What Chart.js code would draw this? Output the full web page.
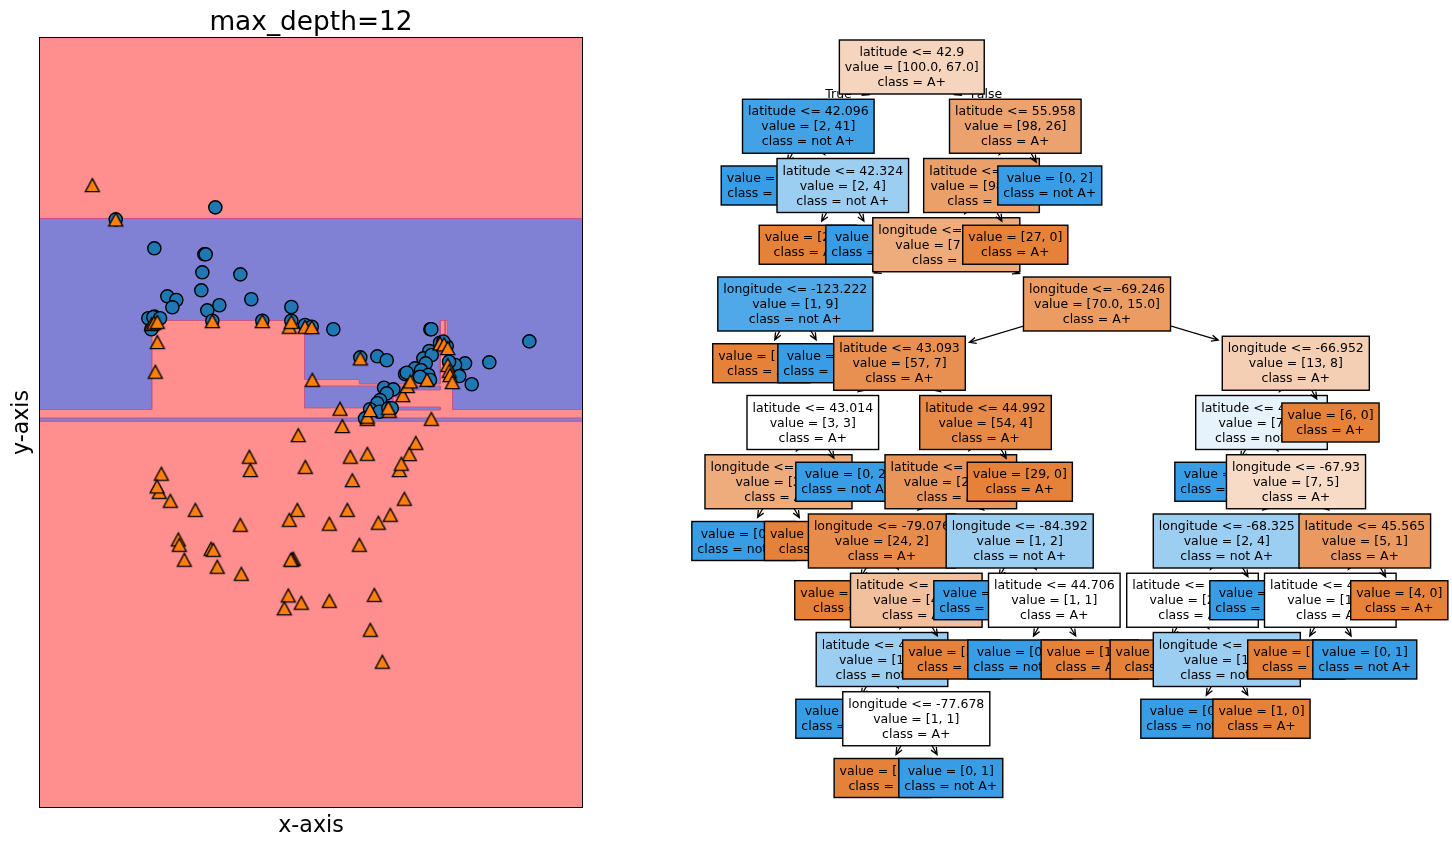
<!DOCTYPE html>
<html>
<head>
<meta charset="utf-8">
<title>max_depth=12</title>
<script src="https://cdn.jsdelivr.net/npm/chart.js@4"></script>
<style>
    html, body { margin: 0; padding: 0; background: #fff; }
    canvas { position: absolute; top: 0; display: block; }
    #regionChart { left: 0; }
    #treeChart { left: 620px; }
</style>
</head>
<body>
<canvas id="regionChart" width="620" height="846"></canvas>
<canvas id="treeChart" width="832" height="846"></canvas>
<script>
// scatter points: class "not A+" (circles) and "A+" (triangles), longitude / latitude
const circleLon = [-129.95,-111.32,-122.73,-113.38,-113.12,-113.75,-106.64,-113.94,-104.59,-120.30,-118.62,-119.36,-110.57,-112.82,-97.10,-123.85,-122.73,-122.92,-121.66,-123.29,-111.88,-102.53,-97.10,-94.54,-93.29,-89.25,-84.20,-81.02,-79.26,-71.10,-70.91,-52.58,-60.07,-64.61,-66.48,-67.60,-63.36,-65.68,-71.29,-72.41,-70.84,-71.96,-73.96,-72.84,-75.83,-75.52,-71.48,-71.16,-73.03,-79.76,-78.02,-79.26,-80.51,-81.02,-82.38,-83.32,-80.64,-78.96,-78.32,-69.29,-68.03,-68.67];
const circleLat = [55.90,56.72,53.92,53.51,53.51,52.28,52.14,51.05,50.44,50.64,50.39,49.89,50.03,49.68,49.91,49.14,49.25,49.21,49.14,48.39,48.97,48.97,48.97,48.68,48.56,48.39,46.47,46.54,46.27,48.39,48.39,47.56,46.13,46.06,45.95,46.17,44.63,45.19,46.90,46.40,46.63,46.06,45.72,45.60,45.33,45.42,45.26,44.92,45.14,44.39,44.28,44.01,43.55,43.33,42.92,42.30,42.75,42.99,42.99,47.47,47.24,47.54];
const triangleLon = [-134.33,-129.95,-123.22,-122.79,-122.17,-122.17,-122.54,-111.88,-102.53,-97.48,-97.10,-94.54,-93.29,-93.17,-95.80,-84.20,-87.99,-87.56,-82.89,-82.89,-82.38,-78.77,-78.96,-70.91,-76.27,-75.40,-74.84,-71.72,-73.83,-69.29,-68.54,-67.85,-67.85,-67.55,-67.42,-66.99,-104.96,-104.77,-94.48,-86.07,-82.89,-75.03,-76.90,-76.53,-85.69,-121.42,-121.80,-122.23,-119.74,-115.06,-106.64,-75.97,-78.58,-80.83,-86.63,-89.99,-95.98,-97.48,-84.38,-118.24,-118.05,-117.12,-112.12,-111.69,-110.95,-106.46,-96.73,-96.97,-97.22,-97.67,-95.23,-98.41,-89.99,-81.58,-82.33,-80.08];
const triangleLat = [58.25,55.90,48.75,48.84,48.90,47.52,45.49,48.95,48.95,48.56,48.90,48.56,48.54,44.94,41.16,46.40,42.96,41.78,42.27,42.42,42.87,42.82,43.03,42.27,43.89,44.51,44.83,44.94,40.63,47.43,47.36,47.11,45.95,45.55,45.26,44.78,39.68,38.77,38.99,39.68,39.88,39.86,38.77,39.20,38.08,38.52,37.28,37.65,36.67,36.05,35.03,36.81,35.71,35.17,36.05,35.10,36.05,35.37,33.66,34.03,33.66,32.64,33.39,33.32,32.16,31.68,32.71,32.66,32.64,30.20,29.70,29.32,29.83,30.24,27.85,25.67];

// decision regions predicted as "not A+"
const mainRegionLon = [-144.21,-42.64,-42.64,-66.95,-66.95,-67.93,-67.93,-69.25,-69.25,-84.39,-84.39,-94.64,-94.64,-123.22,-123.22,-144.21,-144.21];
const mainRegionLat = [55.96,55.96,42.9,42.9,45.19,45.19,48.99,48.99,44.65,44.65,44.95,44.95,48.99,48.99,42.9,42.9,55.96];
const lowerRegionLon = [-94.64,-69.25,-69.25,-75.7,-75.7,-78.1,-78.1,-69.25,-69.25,-79.2,-79.2,-94.64,-94.64];
const lowerRegionLat = [44.51,44.51,44.24,44.24,43.76,43.76,43.07,43.07,42.87,42.87,43.01,43.01,44.51];
const stripRegionLon = [-144.21,-42.64,-42.64,-144.21,-144.21];
const stripRegionLat = [42.324,42.324,42.096,42.096,42.324];
const spikeRegionLon = [-68.36,-68.3,-68.3,-68.36,-68.36];
const spikeRegionLat = [48.99,48.99,45.19,45.19,48.99];
const lonRange = [-144.21, -42.64];
const latRange = [15.7, 68.33];

// tree nodes, in the order plot_tree walks them
const nodeParent = [-1,0,1,1,3,3,0,6,7,8,9,9,8,12,13,14,15,15,14,13,19,20,21,21,23,24,24,26,26,23,20,30,30,32,32,19,12,36,37,37,39,40,41,41,43,43,40,39,47,48,48,47,36,7,6];
const nodeDepth = [0,1,2,2,3,3,1,2,3,4,5,5,4,5,6,7,8,8,7,6,7,8,9,9,10,11,11,12,12,10,8,9,9,10,10,7,5,6,7,7,8,9,10,10,11,11,9,8,9,10,10,9,6,3,2];
const nodeX = [911.8,808.3,773.8,842.8,807.8,877.8,1015.3,981.5,946.3,795.3,761.3,829.8,1097,899.5,812.8,778.5,743.8,813,847.8,985.5,950.8,881.9,847.3,916.3,882,847.8,916.3,882.7,950.8,951.3,1019.7,985.8,1054.3,1019.8,1089.7,1019.8,1295.8,1261.5,1226.8,1296,1226.8,1192.5,1158.7,1226.8,1192.8,1261.5,1261.8,1364.8,1330.3,1296.3,1364.8,1399.3,1330.5,1015.3,1049.8];
const nodeSplit = ['latitude <= 42.9','latitude <= 42.096','','latitude <= 42.324','','','latitude <= 55.958','latitude <= 54.1','longitude <= -94.641','longitude <= -123.222','','','longitude <= -69.246','latitude <= 43.093','latitude <= 43.014','longitude <= -81.024','','','','latitude <= 44.992','latitude <= 44.523','longitude <= -79.076','','latitude <= 43.824','latitude <= 43.471','','longitude <= -77.678','','','','longitude <= -84.392','','latitude <= 44.706','','','','longitude <= -66.952','latitude <= 44.372','','longitude <= -67.93','longitude <= -68.325','latitude <= 45.203','','longitude <= -68.861','','','','latitude <= 45.565','latitude <= 45.412','','','','','',''];
const nodeValue = ['[100.0, 67.0]','[2, 41]','[0, 37]','[2, 4]','[2, 0]','[0, 4]','[98, 26]','[98, 24]','[71, 24]','[1, 9]','[1, 0]','[0, 9]','[70.0, 15.0]','[57, 7]','[3, 3]','[3, 1]','[0, 1]','[3, 0]','[0, 2]','[54, 4]','[25, 4]','[24, 2]','[20, 0]','[4, 2]','[1, 2]','[0, 1]','[1, 1]','[1, 0]','[0, 1]','[3, 0]','[1, 2]','[0, 1]','[1, 1]','[0, 1]','[1, 0]','[29, 0]','[13, 8]','[7, 8]','[0, 3]','[7, 5]','[2, 4]','[2, 2]','[1, 0]','[1, 2]','[0, 2]','[1, 0]','[0, 2]','[5, 1]','[1, 1]','[1, 0]','[0, 1]','[4, 0]','[6, 0]','[27, 0]','[0, 2]'];
const branchLabels = ['True', 'False'];
const branchLabelX = [838.5, 986.5];
const branchLabelDepth = [0.447, 0.447];

const FONT = "'DejaVu Sans'";
const TREE_FONT = "12.5px " + FONT;
const LINE_H = 15;
Chart.defaults.font.family = FONT;
Chart.defaults.color = '#000';

const toPoints = (xs, ys) => xs.map((x, i) => ({ x: x, y: ys[i] }));

// matplotlib's '^' marker is taller than Chart.js' equilateral triangle
const makeTriangle = () => {
    const c = document.createElement('canvas');
    c.width = 24;
    c.height = 24;
    const ctx = c.getContext('2d');
    ctx.beginPath();
    ctx.moveTo(12, 12 - 6.4);
    ctx.lineTo(12 + 7, 12 + 6.6);
    ctx.lineTo(12 - 7, 12 + 6.6);
    ctx.closePath();
    ctx.fillStyle = '#ff7f0e';
    ctx.fill();
    ctx.lineWidth = 1.3;
    ctx.lineJoin = 'miter';
    ctx.strokeStyle = '#000';
    ctx.stroke();
    return c;
};

const regionDataset = (xs, ys) => ({
    data: toPoints(xs, ys),
    showLine: true,
    fill: 'shape',
    backgroundColor: '#8080d4',
    borderColor: '#c5558a',
    borderWidth: 1,
    pointRadius: 0,
    tension: 0
});

const framePlugin = {
    id: 'frame',
    afterDraw(chart) {
        const a = chart.chartArea;
        const ctx = chart.ctx;
        ctx.save();
        ctx.strokeStyle = '#000';
        ctx.lineWidth = 1;
        ctx.strokeRect(a.left, a.top, a.right - a.left, a.bottom - a.top);
        ctx.restore();
    }
};

new Chart(document.getElementById('regionChart'), {
    type: 'scatter',
    data: {
        // first dataset ends up on top
        datasets: [
            {
                data: toPoints(triangleLon, triangleLat),
                pointStyle: makeTriangle(),
                pointRadius: 8
            },
            {
                data: toPoints(circleLon, circleLat),
                pointStyle: 'circle',
                pointRadius: 6.6,
                backgroundColor: '#1f77b4',
                borderColor: '#000',
                borderWidth: 1.4
            },
            regionDataset(spikeRegionLon, spikeRegionLat),
            regionDataset(stripRegionLon, stripRegionLat),
            regionDataset(lowerRegionLon, lowerRegionLat),
            regionDataset(mainRegionLon, mainRegionLat),
            {
                data: toPoints([lonRange[0], lonRange[1], lonRange[1], lonRange[0]], [latRange[0], latRange[0], latRange[1], latRange[1]]),
                showLine: true,
                fill: 'shape',
                backgroundColor: '#ff8f8f',
                borderWidth: 0,
                pointRadius: 0
            }
        ]
    },
    options: {
        responsive: false,
        animation: false,
        events: [],
        layout: { padding: { right: 37.5 } },
        plugins: {
            legend: { display: false },
            tooltip: { enabled: false },
            title: {
                display: true,
                fullSize: false,
                text: 'max_depth=12',
                font: { size: 26.4, weight: 'normal', lineHeight: 1 },
                color: '#000',
                padding: { top: 10, bottom: 1.1 }
            }
        },
        scales: {
            x: {
                min: lonRange[0],
                max: lonRange[1],
                ticks: { display: false },
                grid: { display: false, drawTicks: false },
                border: { display: false },
                title: { display: true, text: 'x-axis', font: { size: 22.2 }, color: '#000', padding: { top: 0, bottom: 6 } },
                afterFit(scale) { scale.height = 38.5; }
            },
            y: {
                min: latRange[0],
                max: latRange[1],
                ticks: { display: false },
                grid: { display: false, drawTicks: false },
                border: { display: false },
                title: { display: true, text: 'y-axis', font: { size: 22.2 }, color: '#000', padding: { top: 9, bottom: 0 } },
                afterFit(scale) { scale.width = 39.5; }
            }
        }
    },
    plugins: [framePlugin]
});

// sklearn colours: class colour faded towards white by how pure the node is
const nodeColor = (text) => {
    const [a, b] = JSON.parse(text);
    const base = a >= b ? [229, 129, 57] : [57, 157, 229];
    const big = Math.max(a, b);
    const small = Math.min(a, b);
    const alpha = (big - small) / big;
    const rgb = base.map(v => Math.round(255 - (255 - v) * alpha));
    return 'rgb(' + rgb.join(',') + ')';
};

const nodeLines = (i) => {
    const [a, b] = JSON.parse(nodeValue[i]);
    const lines = ['value = ' + nodeValue[i], 'class = ' + (a >= b ? 'A+' : 'not A+')];
    if (nodeSplit[i]) lines.unshift(nodeSplit[i]);
    return lines;
};

const nodeBox = (ctx, chart, i) => {
    const lines = nodeLines(i);
    const w = Math.max(...lines.map(l => ctx.measureText(l).width)) + 11;
    const h = lines.length * LINE_H + 9;
    const cx = chart.scales.x.getPixelForValue(nodeX[i]);
    const cy = chart.scales.y.getPixelForValue(nodeDepth[i]);
    return { lines, w, h, cx, cy };
};

const drawArrow = (ctx, chart, i, box) => {
    const p = nodeParent[i];
    if (p < 0) return;
    const px = chart.scales.x.getPixelForValue(nodeX[p]);
    const py = chart.scales.y.getPixelForValue(nodeDepth[p]);
    const dx = box.cx - px;
    const dy = box.cy - py;
    // stop the line a little before the child's box
    const shrink = 4;
    const tx = dx === 0 ? 1 : (Math.abs(dx) - box.w / 2 - shrink) / Math.abs(dx);
    const ty = (Math.abs(dy) - box.h / 2 - shrink) / Math.abs(dy);
    const t = Math.max(Math.min(tx, 1), ty);
    const ex = px + dx * t;
    const ey = py + dy * t;
    const ang = Math.atan2(dy, dx);
    ctx.beginPath();
    ctx.moveTo(px, py);
    ctx.lineTo(ex, ey);
    ctx.moveTo(ex - 7.5 * Math.cos(ang - 0.42), ey - 7.5 * Math.sin(ang - 0.42));
    ctx.lineTo(ex, ey);
    ctx.lineTo(ex - 7.5 * Math.cos(ang + 0.42), ey - 7.5 * Math.sin(ang + 0.42));
    ctx.strokeStyle = '#000';
    ctx.lineWidth = 1.3;
    ctx.stroke();
};

const treePlugin = {
    id: 'tree',
    afterDatasetsDraw(chart) {
        const ctx = chart.ctx;
        ctx.save();
        ctx.font = TREE_FONT;
        ctx.textAlign = 'center';
        ctx.textBaseline = 'middle';
        // deeper levels first, same level in walk order
        const order = nodeX.map((x, i) => i).sort((a, b) => (nodeDepth[b] - nodeDepth[a]) || (a - b));
        order.forEach(i => {
            if (i === 0) {
                ctx.fillStyle = '#000';
                branchLabels.forEach((label, k) => {
                    ctx.fillText(label, chart.scales.x.getPixelForValue(branchLabelX[k]), chart.scales.y.getPixelForValue(branchLabelDepth[k]) + 1);
                });
            }
            const box = nodeBox(ctx, chart, i);
            drawArrow(ctx, chart, i, box);
            ctx.fillStyle = nodeColor(nodeValue[i]);
            ctx.strokeStyle = '#000';
            ctx.lineWidth = 1.4;
            ctx.fillRect(box.cx - box.w / 2, box.cy - box.h / 2, box.w, box.h);
            ctx.strokeRect(box.cx - box.w / 2, box.cy - box.h / 2, box.w, box.h);
            ctx.fillStyle = '#000';
            box.lines.forEach((line, k) => {
                ctx.fillText(line, box.cx, box.cy + 1 + (k - (box.lines.length - 1) / 2) * LINE_H);
            });
        });
        ctx.restore();
    }
};

new Chart(document.getElementById('treeChart'), {
    type: 'scatter',
    data: {
        datasets: [{ data: toPoints(nodeX, nodeDepth), pointRadius: 0 }]
    },
    options: {
        responsive: false,
        animation: false,
        events: [],
        plugins: {
            legend: { display: false },
            tooltip: { enabled: false }
        },
        scales: {
            x: { display: false, min: 620, max: 1452 },
            y: { display: false, reverse: true, min: -1.1308, max: 13.1477 }
        }
    },
    plugins: [treePlugin]
});
</script>
</body>
</html>
